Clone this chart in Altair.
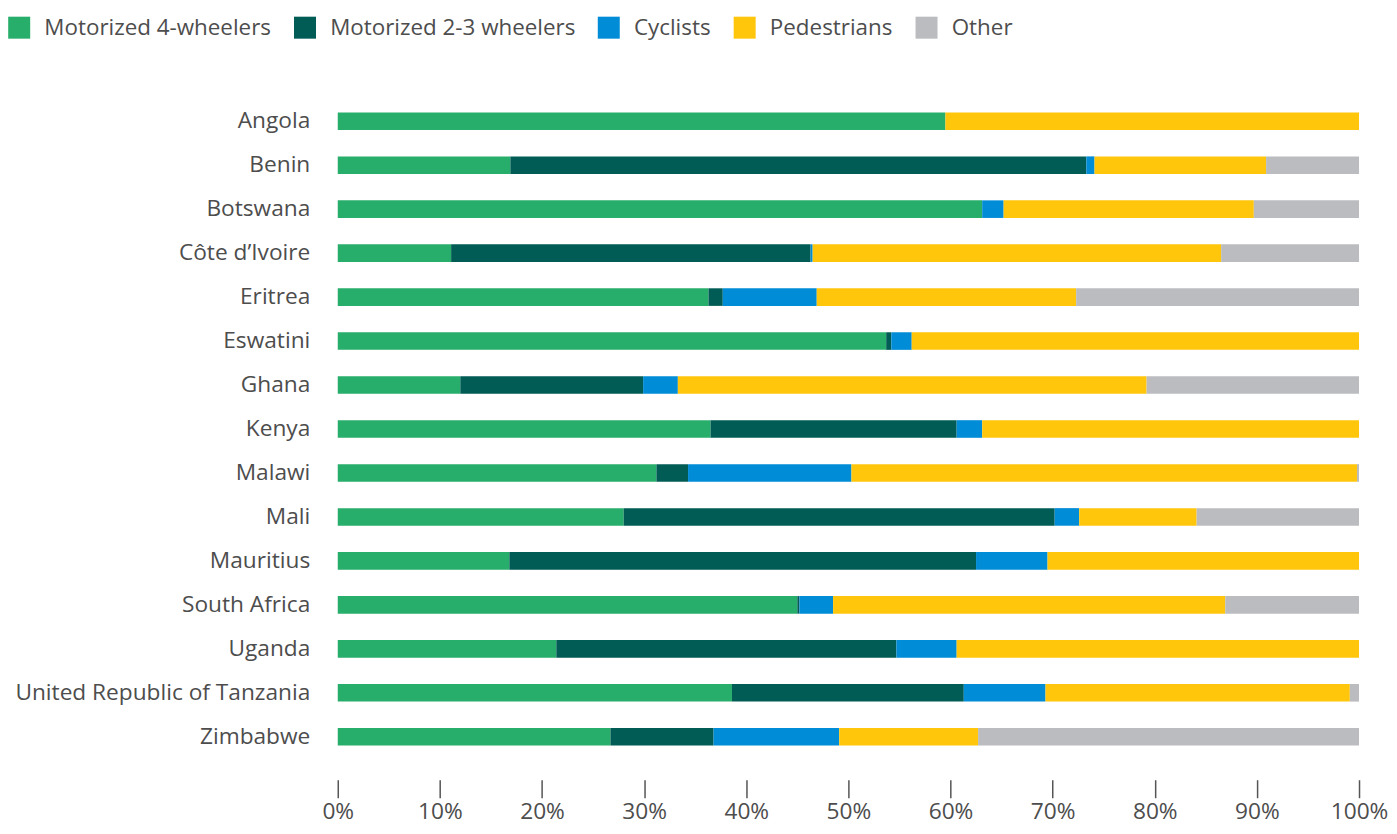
import altair as alt
import pandas as pd

countries = ["Angola", "Benin", "Botswana", "Côte d’Ivoire", "Eritrea", "Eswatini", "Ghana",
             "Kenya", "Malawi", "Mali", "Mauritius", "South Africa", "Uganda",
             "United Republic of Tanzania", "Zimbabwe"]
categories = ["Motorized 4-wheelers", "Motorized 2-3 wheelers", "Cyclists", "Pedestrians", "Other"]
colors = ["#27AE6A", "#005C55", "#008CD6", "#FFC60B", "#BBBCBF"]

four_wheelers = [59.5, 16.9, 63.1, 11.1, 36.3, 53.7, 12.0, 36.5, 31.2, 28.0, 16.8, 45.0, 21.4, 38.6, 26.7]
two_three_wheelers = [0.0, 56.4, 0.0, 35.2, 1.4, 0.5, 17.9, 24.1, 3.1, 42.2, 45.7, 0.2, 33.3, 22.7, 10.1]
cyclists = [0.0, 0.8, 2.1, 0.2, 9.2, 2.0, 3.4, 2.5, 16.0, 2.4, 7.0, 3.3, 5.9, 8.0, 12.3]
pedestrians = [40.5, 16.8, 24.5, 40.0, 25.4, 43.8, 45.9, 36.9, 49.5, 11.5, 30.5, 38.4, 39.4, 29.8, 13.6]
other = [0.0, 9.1, 10.3, 13.5, 27.7, 0.0, 20.8, 0.0, 0.2, 15.9, 0.0, 13.1, 0.0, 0.9, 37.3]

series = [four_wheelers, two_three_wheelers, cyclists, pedestrians, other]
rows = []
for ci, (cat, vals) in enumerate(zip(categories, series)):
    for country, v in zip(countries, vals):
        rows.append({"country": country, "category": cat, "value": v, "order": ci})
df = pd.DataFrame(rows)

FONT = "Open Sans"
TXT = "#4D4D4D"
FS = 22.7
LFS = 22.4

chart = alt.Chart(df).mark_bar().encode(
    y=alt.Y("country:N", sort=countries, title=None,
            scale=alt.Scale(paddingInner=0.6, paddingOuter=0.3),
            axis=alt.Axis(domain=False, ticks=False, labelFontSize=FS, labelFont=FONT,
                          labelColor=TXT, labelPadding=28, labelLimit=0)),
    x=alt.X("value:Q", stack="zero", title=None,
            scale=alt.Scale(domain=[0, 100], nice=False),
            axis=alt.Axis(values=list(range(0, 101, 10)), labelExpr="datum.value + '%'",
                          domain=False, grid=False, ticks=True, tickSize=18, tickWidth=1.5,
                          tickColor="#555555", offset=21, labelFontSize=FS, labelFont=FONT,
                          labelColor=TXT, labelPadding=3, labelFlush=False)),
    color=alt.Color("category:N", sort=categories,
                    scale=alt.Scale(domain=categories, range=colors),
                    legend=alt.Legend(title=None, orient="none", direction="horizontal",
                                      legendX=-330, legendY=-83, symbolType="square",
                                      symbolSize=484, symbolStrokeWidth=0, symbolOpacity=1,
                                      labelFontSize=LFS, labelFont=FONT, labelColor=TXT,
                                      labelOffset=14, columnPadding=22, labelLimit=0)),
    order=alt.Order("order:Q"),
).properties(
    width=1022, height=660,
    autosize=alt.AutoSizeParams(type="none"),
    padding={"left": 330, "top": 91, "right": 30, "bottom": 67},
).configure_view(stroke=None)

chart.save("out.html", embed_options={"renderer": "svg", "actions": False})
